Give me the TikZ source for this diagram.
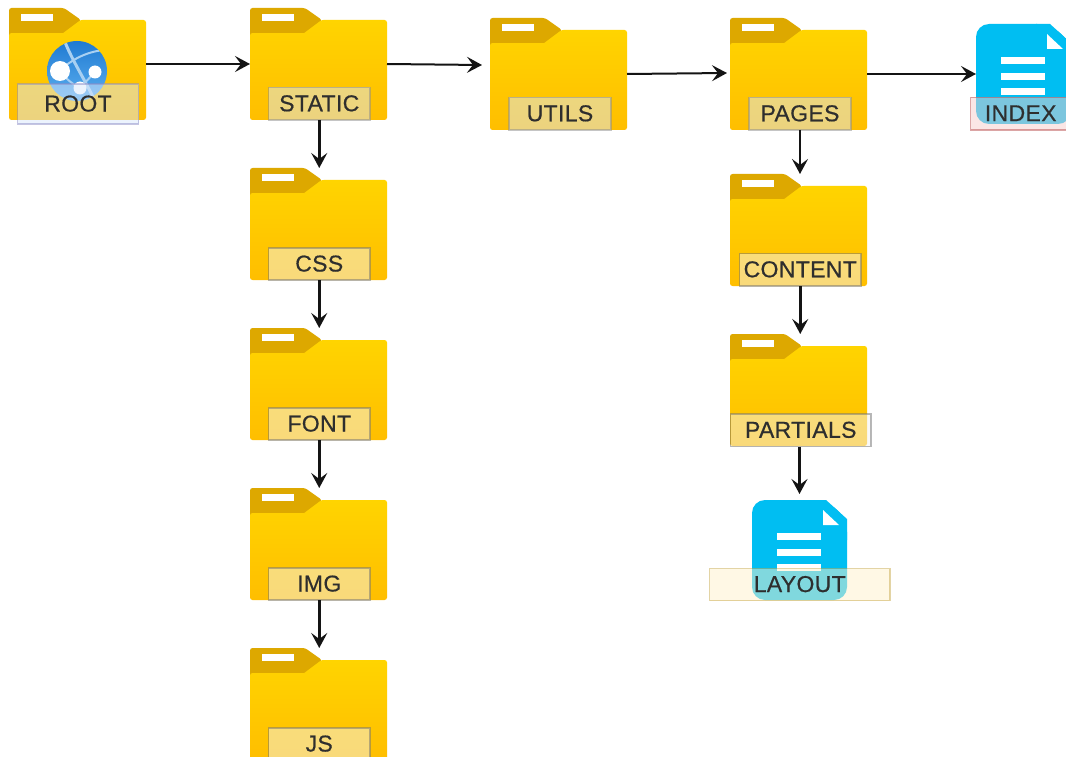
\documentclass[tikz,border=0pt]{standalone}
\usepackage{fontspec}
\setmainfont{Liberation Sans}
\newfontfamily\labfont{Liberation Sans}[FakeBold=0.5,LetterSpace=1.5]
\usetikzlibrary{arrows.meta}
\definecolor{tabc}{HTML}{DDA800}
\definecolor{foldtop}{HTML}{FFD400}
\definecolor{foldbot}{HTML}{FFBE00}
\definecolor{docc}{HTML}{00BEF2}
\definecolor{labgray}{HTML}{F5F5F5}
\definecolor{labblue}{HTML}{DAE8FC}
\definecolor{labred}{HTML}{F8CECC}
\definecolor{labcream}{HTML}{FFF2CC}
\definecolor{globetop}{HTML}{1F7AD2}
\definecolor{globebot}{HTML}{5DB0F0}
\definecolor{globeline}{HTML}{A8D0F2}
\tikzset{
  x=1pt,y=-1pt,
  arr/.style={draw=black!92,line width=2pt,-{Stealth[length=15pt,width=16pt,inset=6pt]}},
  varr/.style={arr,line width=2.5pt},
  box/.style={draw=none,fill=none,inner sep=0pt,outer sep=0pt},
  lab/.style={inner sep=0pt,outer sep=0pt,line width=1.2pt,fill opacity=.5,draw opacity=.5,text opacity=1,
    text=black!82,font=\labfont\fontsize{23}{26}\selectfont},
  labg/.style={lab,fill=labgray,draw=black!55},
  labb/.style={lab,fill=labblue,draw=black!45},
}
% #1 name, #2 left, #3 top
\newcommand{\folderat}[3]{%
  \begin{scope}[shift={(#2,#3)}]
    \fill[tabc,rounded corners=2.5pt] (0,30) -- (0,0) -- (55,0) -- (72,12) -- (54,30) -- cycle;
    \shade[top color=foldtop,bottom color=foldbot,rounded corners=2.5pt]
      (0,112) -- (0,25) -- (52,25) -- (71,12) -- (137,12) -- (137,112) -- cycle;
    \fill[tabc] (0,4) rectangle (54,25);
    \fill[tabc] (54,25) -- (54,4) -- (71,12.2) -- cycle;
    \fill[white] (12,6) rectangle (44,13);
    \node[box,minimum width=137pt,minimum height=112pt,anchor=north west] (#1) at (0,0) {};
  \end{scope}}
% #1 name, #2 left, #3 top
\newcommand{\docat}[3]{%
  \begin{scope}[shift={(#2,#3)}]
    \fill[docc,rounded corners=13pt] (0,100) -- (0,0) -- (74,0) -- (95,19) -- (95,100) -- cycle;
    \fill[docc] (60,0) -- (74,0) -- (95,19) -- (95,40) -- (60,40) -- cycle;
    \fill[white] (71,10) -- (71,25) -- (87,25) -- cycle;
    \fill[white] (25,33) rectangle (69,40);
    \fill[white] (25,49) rectangle (69,56);
    \fill[white] (25,64) rectangle (69,71);
    \node[box,minimum width=95pt,minimum height=100pt,anchor=north west] (#1) at (0,0) {};
  \end{scope}}
\newcommand{\labelbox}[7]{% style,name,x0,y0,x1,y1,text
  \node[#1,minimum width=#5pt-#3pt,minimum height=#6pt-#4pt] (#2) at ({(#3+#5)/2},{(#4+#6)/2}) {\raisebox{1pt}{#7}};}
\begin{document}
\begin{tikzpicture}
\path[use as bounding box,clip] (0,0) rectangle (1066,757);
\fill[white] (0,0) rectangle (1066,757);

\folderat{root}{9}{8}
\folderat{static}{250}{8}
\folderat{css}{250}{168}
\folderat{font}{250}{328}
\folderat{img}{250}{488}
\folderat{js}{250}{648}
\folderat{utils}{490}{18}
\folderat{pages}{730}{18}
\folderat{content}{730}{174}
\folderat{partials}{730}{334}
\docat{index}{976}{24}
\docat{layoutdoc}{752}{500}

% globe
\begin{scope}
  \clip (77,71) circle (30);
  \shade[top color=globetop,bottom color=globebot] (47,41) rectangle (107,101);
  \draw[globeline,line width=3pt] (65,42) .. controls (72,60) and (85,80) .. (95,101);
  \draw[globeline,line width=2pt] (60,70) .. controls (72,60) and (85,52) .. (104,50);
  \draw[globeline,line width=2pt] (60,72) .. controls (68,80) and (72,84) .. (80,88);
  \draw[globeline,line width=2pt] (80,88) -- (95,72);
  \fill[white] (60,71) circle (10);
  \fill[white] (95,72) circle (6.5);
  \fill[white] (80,88) circle (6.5);
\end{scope}

\labelbox{labb,draw=blue!50!black!45}{lroot}{17.5}{84}{138.5}{124}{ROOT}
\labelbox{labb}{lstatic}{268.5}{87.5}{370}{120}{STATIC}
\labelbox{labg}{lcss}{268.5}{248}{370}{280}{CSS}
\labelbox{labg}{lfont}{268.5}{408}{370}{440}{FONT}
\labelbox{labg}{limg}{268.5}{568}{370}{600}{IMG}
\labelbox{labg}{ljs}{268.5}{728}{370}{760}{JS}
\labelbox{labb}{lutils}{509}{97.5}{611}{130}{UTILS}
\labelbox{labb}{lpages}{749}{97.5}{851}{130}{PAGES}
\labelbox{labg}{lcontent}{739.5}{253.5}{861}{286}{CONTENT}
\labelbox{labg}{lpartials}{730.5}{414}{871}{446.5}{PARTIALS}
\labelbox{lab,fill=labred,draw=red!60!black!70}{lindex}{970.5}{97.5}{1071}{130}{INDEX}
\labelbox{lab,fill=labcream,draw=orange!50!yellow!70!black!70}{llayout}{709.5}{568.5}{890}{600.5}{LAYOUT}

\coordinate (utilsin) at (482,65);
\coordinate (pagesin) at (727,73);
\coordinate (layoutin) at (799.5,494);
\draw[arr] (root.east) -- (static.west);
\draw[arr] (static.east) -- (utilsin);
\draw[arr] (utils.east) -- (pagesin);
\draw[arr] (pages.east) -- (index.west);
\draw[varr] (lstatic.south) -- (lstatic.south |- css.north);
\draw[varr] (lcss.south) -- (lcss.south |- font.north);
\draw[varr] (lfont.south) -- (lfont.south |- img.north);
\draw[varr] (limg.south) -- (limg.south |- js.north);
\draw[varr] (lpages.south) -- (lpages.south |- content.north);
\draw[varr] (lcontent.south) -- (lcontent.south |- partials.north);
\draw[varr] (layoutin |- lpartials.south) -- (layoutin);
\end{tikzpicture}
\end{document}
